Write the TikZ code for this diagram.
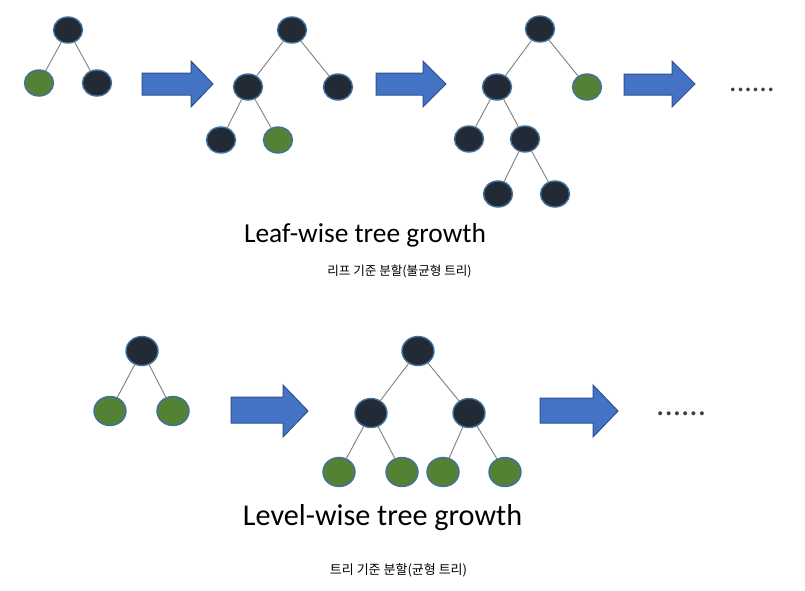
\documentclass[tikz,border=0pt]{standalone}
\usepackage{fontspec}
\setmainfont{Carlito}
\newfontfamily\kofont{Noto Sans CJK KR}
\usetikzlibrary{shapes.geometric}
\definecolor{darkfill}{HTML}{222A35}
\definecolor{greenfill}{HTML}{548235}
\definecolor{nodeline}{HTML}{41719C}
\definecolor{arrowfill}{HTML}{4472C4}
\definecolor{arrowline}{HTML}{2F528F}
\definecolor{edgegray}{HTML}{7F7F7F}
\definecolor{dotgray}{HTML}{404040}
\tikzset{
  tnode/.style={ellipse, draw=nodeline, line width=1.4pt, inner sep=0pt, minimum width=29pt, minimum height=26pt},
  dk/.style={tnode, fill=darkfill},
  gn/.style={tnode, fill=greenfill},
  bdk/.style={dk, minimum width=32pt, minimum height=29pt},
  bgn/.style={gn, minimum width=32pt, minimum height=29pt},
  edge/.style={draw=edgegray, line width=0.9pt},
  blockarrow/.style={fill=arrowfill, draw=arrowline, line width=1pt, line join=miter},
  title/.style={font=\fontsize{#1}{#1}\selectfont, anchor=base, inner sep=0pt},
  dots/.style={font=\fontsize{#1}{#1}\selectfont, anchor=base west, inner sep=0pt, text=dotgray},
  kor/.style={font=\kofont\fontsize{#1}{#1}\selectfont, anchor=base, inner sep=0pt},
}
\begin{document}
\begin{tikzpicture}[x=1pt,y=-1pt]
\useasboundingbox[fill=white] (0,0) rectangle (805,590);
% ---------- Leaf-wise ----------
% tree 1
\node[dk] (a1) at (68,30) {};
\node[gn] (a2) at (39,83) {};
\node[dk] (a3) at (97,83) {};
\draw[edge] (a1) -- (a2) (a1) -- (a3);
% arrow 1
\draw[blockarrow] (142,73) -- (191,73) -- (191,61) -- (213,84) -- (191,107) -- (191,95) -- (142,95) -- cycle;
% tree 2
\node[dk] (b1) at (292,30) {};
\node[dk] (b2) at (248,87) {};
\node[dk] (b3) at (338,87) {};
\node[dk] (b4) at (221,140) {};
\node[gn] (b5) at (278,140) {};
\draw[edge] (b1) -- (b2) (b1) -- (b3) (b2) -- (b4) (b2) -- (b5);
% arrow 2
\draw[blockarrow] (376,73) -- (423,73) -- (423,61) -- (446,84) -- (423,107) -- (423,95) -- (376,95) -- cycle;
% tree 3
\node[dk] (c1) at (540,29) {};
\node[dk] (c2) at (497,87) {};
\node[gn] (c3) at (587,87) {};
\node[dk] (c4) at (469,139) {};
\node[dk] (c5) at (525,139) {};
\node[dk] (c6) at (498,194) {};
\node[dk] (c7) at (555,194) {};
\draw[edge] (c1) -- (c2) (c1) -- (c3) (c2) -- (c4) (c2) -- (c5) (c5) -- (c6) (c5) -- (c7);
% arrow 3
\draw[blockarrow] (624,74) -- (672,74) -- (672,61) -- (695,84) -- (672,107) -- (672,95) -- (624,95) -- cycle;
\node[dots=30] (d1) at (729,91) {......};
\node[title=27.4] (t1) at (365,242) {Leaf-wise tree growth};
\node[kor=12.6] (k1) at (399.5,275) {리프 기준 분할(불균형 트리)};
% ---------- Level-wise ----------
\node[bdk] (e1) at (142,351) {};
\node[bgn] (e2) at (110,411) {};
\node[bgn] (e3) at (173,411) {};
\draw[edge] (e1) -- (e2) (e1) -- (e3);
\draw[blockarrow] (231,397) -- (283,397) -- (283,385) -- (308,411) -- (283,437) -- (283,423) -- (231,423) -- cycle;
\node[bdk] (f1) at (418,351) {};
\node[bdk] (f2) at (371,413) {};
\node[bdk] (f3) at (469,413) {};
\node[bgn] (f4) at (339,472) {};
\node[bgn] (f5) at (402,472) {};
\node[bgn] (f6) at (443,472) {};
\node[bgn] (f7) at (505,472) {};
\draw[edge] (f1) -- (f2) (f1) -- (f3) (f2) -- (f4) (f2) -- (f5) (f3) -- (f6) (f3) -- (f7);
\draw[blockarrow] (540,398) -- (593,398) -- (593,385) -- (618,411) -- (593,437) -- (593,423) -- (540,423) -- cycle;
\node[dots=33] (d2) at (656,415) {......};
\node[title=30.2] (t2) at (382.5,525) {Level-wise tree growth};
\node[kor=13] (k2) at (398.5,574) {트리 기준 분할(균형 트리)};
\end{tikzpicture}
\end{document}
